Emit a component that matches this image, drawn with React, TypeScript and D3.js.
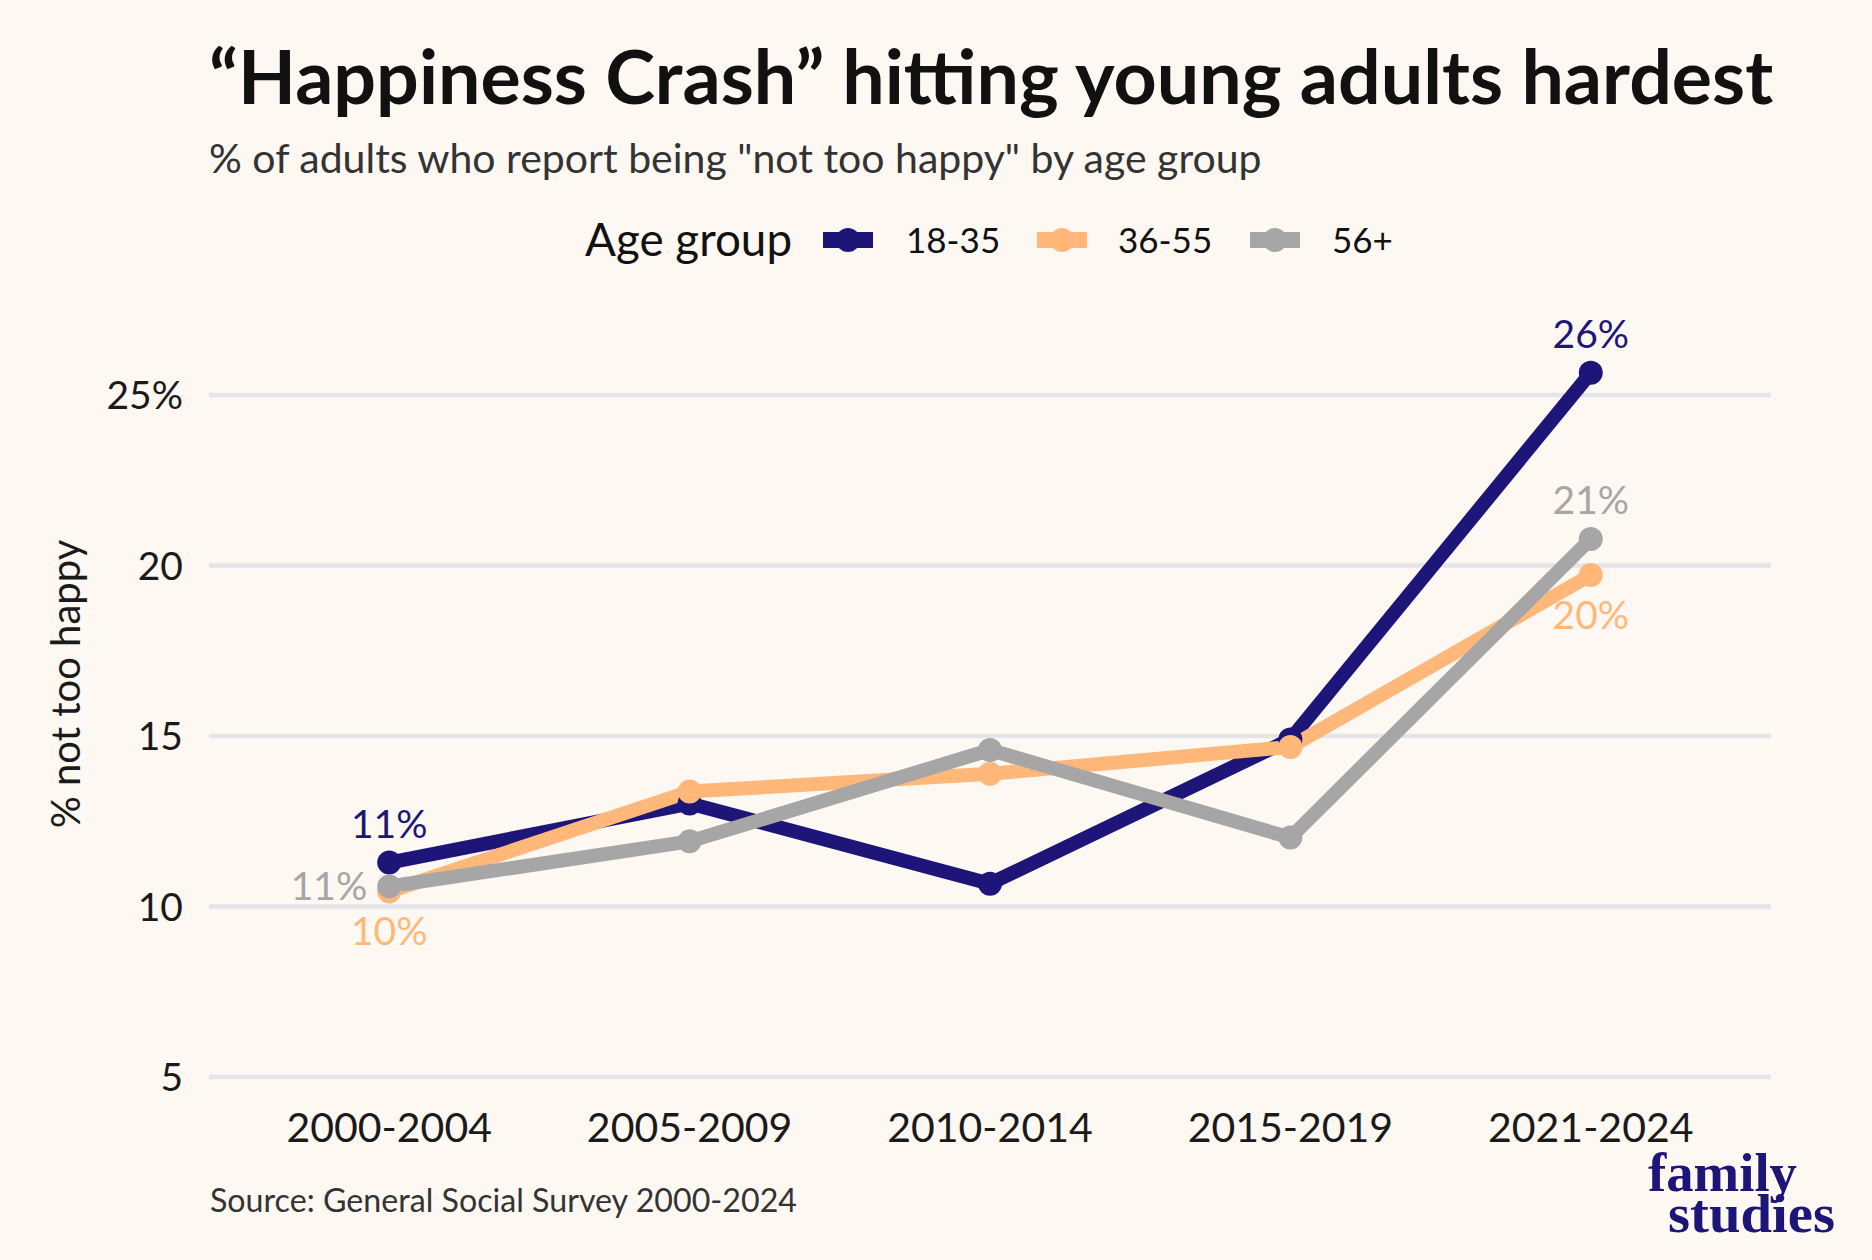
import React from "react";
import * as d3 from "d3";

const categories = ["2000-2004", "2005-2009", "2010-2014", "2015-2019", "2021-2024"];
const groups = ["18-35", "36-55", "56+"];
const young = [11.29, 13.02, 10.67, 14.9, 25.65];
const middle = [10.44, 13.37, 13.89, 14.68, 19.72];
const older = [10.59, 11.91, 14.59, 12.02, 20.78];
const yTicks = [5, 10, 15, 20, 25];

const seriesValues = [young, middle, older];
const colors = ["#1D1577", "#FFB87A", "#A6A6A6"];

const W = 1872;
const H = 1260;
const FONT = "Lato, 'Noto Sans', sans-serif";

// label placement per series: [first, last]
const labelPlace: Array<[string, string]> = [
  ["above", "above"],
  ["below", "below"],
  ["left", "above"],
];

export default function App() {
  const x = d3.scalePoint<string>().domain(categories).range([209, 1771]).padding(0.6);
  const y = d3.scaleLinear().domain([5, 25]).range([1077, 395]);

  const line = d3
    .line<number>()
    .x((_, i) => x(categories[i]) as number)
    .y((d) => y(d));

  const fmt = (v: number) => `${Math.round(v)}%`;

  const labelEls: React.ReactNode[] = [];
  seriesValues.forEach((vals, si) => {
    [0, vals.length - 1].forEach((idx, k) => {
      const place = labelPlace[si][k];
      const px = x(categories[idx]) as number;
      const py = y(vals[idx]);
      let tx = px;
      let ty = py;
      let anchor: "middle" | "end" = "middle";
      if (place === "above") ty = py - 25;
      else if (place === "below") ty = py + 54;
      else {
        tx = px - 22;
        ty = py + 14;
        anchor = "end";
      }
      labelEls.push(
        <text
          key={`lab-${si}-${k}`}
          x={tx}
          y={ty}
          textAnchor={anchor}
          fill={colors[si]}
          fontSize={39}
          fontFamily={FONT}
        >
          {fmt(vals[idx])}
        </text>
      );
    });
  });

  const legendKeysX = [823, 1037, 1250];
  const legendTextX = [906, 1118, 1332];

  return (
    <svg
      width={W}
      height={H}
      viewBox={`0 0 ${W} ${H}`}
      style={{ position: "absolute", left: 0, top: 0, display: "block" }}
    >
      <rect x={0} y={0} width={W} height={H} fill="#FEF8F3" />

      {/* title */}
      <text x={209} y={104} fontFamily={FONT} fontWeight={700} fontSize={75.3} fill="#111111">
        “Happiness Crash” hitting young adults hardest
      </text>
      <text x={209} y={173} fontFamily={FONT} fontSize={41} fill="#333333">
        % of adults who report being "not too happy" by age group
      </text>

      {/* legend */}
      <text x={585} y={256} fontFamily={FONT} fontSize={45.8} fill="#111111">
        Age group
      </text>
      {groups.map((g, i) => (
        <g key={`leg-${g}`}>
          <line
            x1={legendKeysX[i]}
            x2={legendKeysX[i] + 50}
            y1={240}
            y2={240}
            stroke={colors[i]}
            strokeWidth={16}
          />
          <circle cx={legendKeysX[i] + 25} cy={240} r={12} fill={colors[i]} />
          <text x={legendTextX[i]} y={253} fontFamily={FONT} fontSize={35} fill="#111111">
            {g}
          </text>
        </g>
      ))}

      {/* gridlines */}
      {yTicks.map((t) => (
        <line
          key={`grid-${t}`}
          x1={209}
          x2={1771}
          y1={y(t)}
          y2={y(t)}
          stroke="#E3E5EB"
          strokeWidth={4.5}
        />
      ))}

      {/* y tick labels */}
      {yTicks.map((t) => (
        <text
          key={`yt-${t}`}
          x={183}
          y={y(t) + 14}
          textAnchor="end"
          fontFamily={FONT}
          fontSize={39}
          fill="#1a1a1a"
        >
          {t === 25 ? `${t}%` : `${t}`}
        </text>
      ))}

      {/* y axis title */}
      <text
        transform={`translate(80, 684) rotate(-90)`}
        textAnchor="middle"
        fontFamily={FONT}
        fontSize={40}
        fill="#1a1a1a"
      >
        % not too happy
      </text>

      {/* x tick labels */}
      {categories.map((c) => (
        <text
          key={`xt-${c}`}
          x={x(c) as number}
          y={1142}
          textAnchor="middle"
          fontFamily={FONT}
          fontSize={41}
          fill="#1a1a1a"
        >
          {c}
        </text>
      ))}

      {/* lines */}
      {seriesValues.map((vals, si) => (
        <path
          key={`line-${si}`}
          d={line(vals) as string}
          fill="none"
          stroke={colors[si]}
          strokeWidth={14}
          strokeLinejoin="round"
        />
      ))}
      {/* points */}
      {seriesValues.map((vals, si) =>
        vals.map((v, i) => (
          <circle
            key={`pt-${si}-${i}`}
            cx={x(categories[i]) as number}
            cy={y(v)}
            r={12}
            fill={colors[si]}
          />
        ))
      )}

      {labelEls}

      {/* source */}
      <text x={210} y={1212} fontFamily={FONT} fontSize={32.2} fill="#333333">
        Source: General Social Survey 2000-2024
      </text>

      {/* logo */}
      <text
        x={1648}
        y={1191}
        fontFamily="'Liberation Serif', 'DejaVu Serif', serif"
        fontWeight={700}
        fontSize={54}
        fill="#1D1577"
        textLength={149}
        lengthAdjust="spacingAndGlyphs"
      >
        family
      </text>
      <text
        x={1668}
        y={1232}
        fontFamily="'Liberation Serif', 'DejaVu Serif', serif"
        fontWeight={700}
        fontSize={54}
        fill="#1D1577"
        textLength={167}
        lengthAdjust="spacingAndGlyphs"
      >
        studies
      </text>
    </svg>
  );
}
